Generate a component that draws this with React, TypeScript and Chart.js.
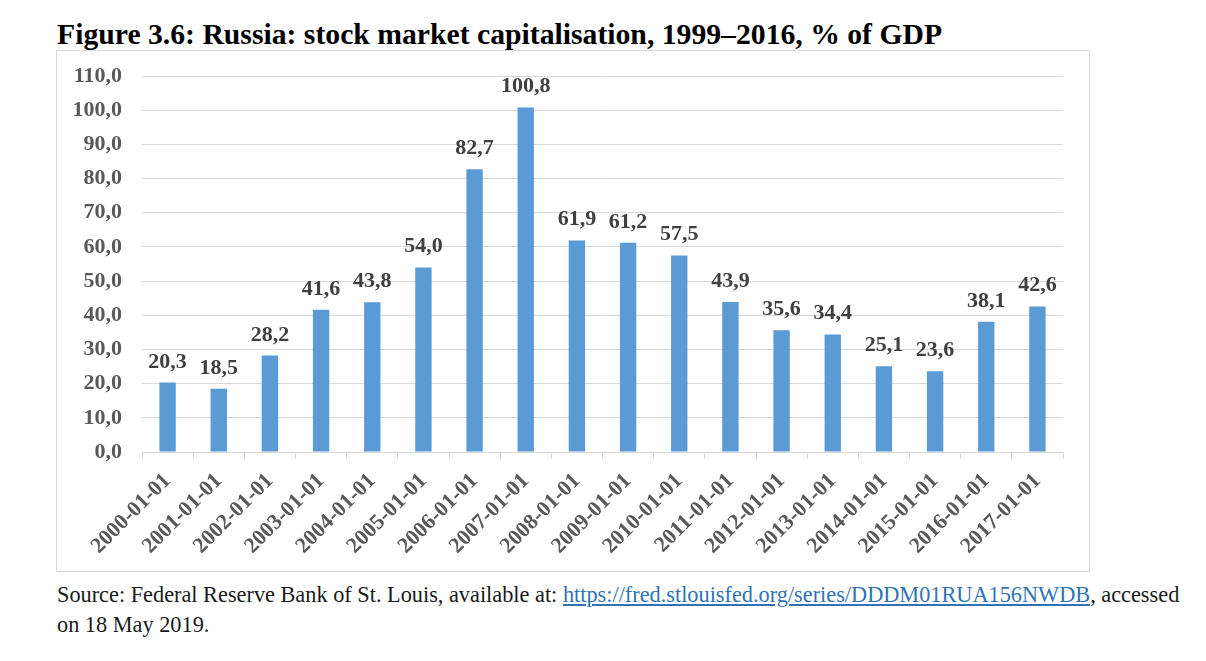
import React, { useEffect, useRef } from "react";
import { Chart, registerables } from "chart.js";

Chart.register(...registerables);

const categories = [
  "2000-01-01", "2001-01-01", "2002-01-01", "2003-01-01", "2004-01-01", "2005-01-01",
  "2006-01-01", "2007-01-01", "2008-01-01", "2009-01-01", "2010-01-01", "2011-01-01",
  "2012-01-01", "2013-01-01", "2014-01-01", "2015-01-01", "2016-01-01", "2017-01-01",
];
const capitalisation = [
  20.3, 18.5, 28.2, 41.6, 43.8, 54.0, 82.7, 100.8, 61.9, 61.2, 57.5, 43.9, 35.6, 34.4, 25.1, 23.6, 38.1, 42.6,
];
const yMin = 0;
const yMax = 110;
const yStep = 10;

const FONT = "'Liberation Serif', 'Times New Roman', serif";
const fmt = (v: number) => v.toFixed(1).replace(".", ",");

const valueLabels = {
  id: "valueLabels",
  afterDatasetsDraw(chart: any) {
    const ctx = chart.ctx;
    const meta = chart.getDatasetMeta(0);
    ctx.save();
    ctx.font = `bold 22px ${FONT}`;
    ctx.fillStyle = "#404040";
    ctx.textAlign = "center";
    ctx.textBaseline = "alphabetic";
    meta.data.forEach((bar: any, i: number) => {
      ctx.fillText(fmt(capitalisation[i]), bar.x, bar.y - 15);
    });
    ctx.restore();
  },
};

function BarChart() {
  const ref = useRef<HTMLCanvasElement | null>(null);
  useEffect(() => {
    if (!ref.current) return;
    const chart = new Chart(ref.current, {
      type: "bar",
      data: {
        labels: categories,
        datasets: [
          {
            data: capitalisation,
            backgroundColor: "#5B9BD5",
            barPercentage: 0.32,
            categoryPercentage: 1,
          },
        ],
      },
      options: {
        animation: false,
        responsive: false,
        layout: { padding: { top: 25, right: 26, left: 0, bottom: 0 } },
        plugins: { legend: { display: false }, tooltip: { enabled: false } },
        scales: {
          x: {
            grid: {
              drawOnChartArea: false,
              drawTicks: true,
              tickLength: 7,
              color: "#d9d9d9",
              offset: true,
            },
            border: { display: true, color: "#d9d9d9" },
            ticks: {
              autoSkip: false,
              maxRotation: 45,
              minRotation: 45,
              color: "#595959",
              padding: 9,
              font: { family: FONT, size: 22, weight: "bold" },
            },
            afterFit(scale: any) {
              scale.height = 119;
              scale.paddingLeft = 0;
              scale.paddingRight = 0;
            },
          },
          y: {
            min: yMin,
            max: yMax,
            grid: { color: "#d9d9d9", drawTicks: false },
            border: { display: false },
            ticks: {
              stepSize: yStep,
              color: "#595959",
              padding: 20,
              font: { family: FONT, size: 22, weight: "bold" },
              callback: (v: any) => fmt(Number(v)),
            },
            afterFit(scale: any) {
              scale.width = 85;
              scale.paddingTop = 0;
              scale.paddingBottom = 0;
            },
          },
        },
      },
      plugins: [valueLabels],
    } as any);
    return () => chart.destroy();
  }, []);
  return <canvas ref={ref} width={1032} height={520} style={{ display: "block" }} />;
}

export default function App() {
  return (
    <div
      style={{
        position: "absolute",
        left: 0,
        top: 0,
        width: 1206,
        height: 661,
        background: "#ffffff",
        fontFamily: FONT,
        overflow: "hidden",
      }}
    >
      <div
        style={{
          position: "absolute",
          left: 57,
          top: 17,
          fontSize: 29.7,
          lineHeight: "34px",
          fontWeight: "bold",
          color: "#000",
          whiteSpace: "nowrap",
        }}
      >
        Figure 3.6: Russia: stock market capitalisation, 1999–2016, % of GDP
      </div>
      <div
        style={{
          position: "absolute",
          left: 56,
          top: 50,
          width: 1032,
          height: 520,
          border: "1px solid #d9d9d9",
        }}
      >
        <BarChart />
      </div>
      <div
        style={{
          position: "absolute",
          left: 57,
          top: 580,
          width: 1149,
          fontSize: 22.3,
          lineHeight: "30px",
          color: "#1a1a1a",
          whiteSpace: "nowrap",
        }}
      >
        Source: Federal Reserve Bank of St. Louis, available at:{" "}
        <a href="#" style={{ color: "#2E74B5", textDecoration: "underline" }}>
          https://fred.stlouisfed.org/series/DDDM01RUA156NWDB
        </a>
        , accessed
        <br />
        on 18 May 2019.
      </div>
    </div>
  );
}
